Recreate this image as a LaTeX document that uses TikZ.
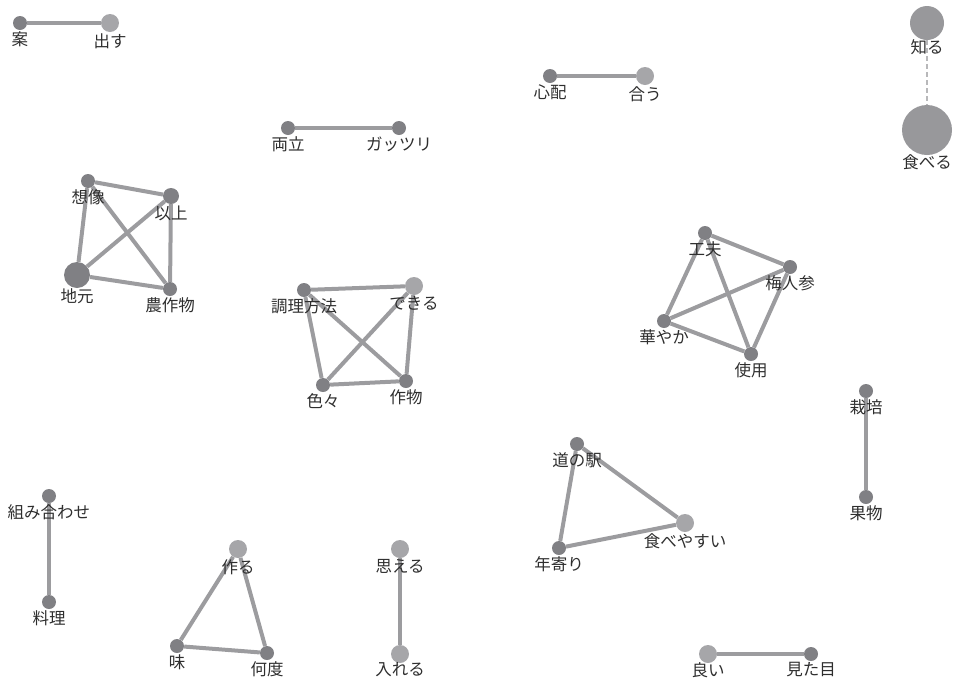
\documentclass[tikz,border=0pt]{standalone}
\usepackage{fontspec}
\setmainfont{Noto Sans CJK JP}
\usepackage{tikz}
\usetikzlibrary{backgrounds}
\definecolor{nodedark}{HTML}{808084}
\definecolor{nodelight}{HTML}{A6A6A9}
\definecolor{nodemid}{HTML}{98989B}
\definecolor{edgegray}{HTML}{9C9C9F}
\definecolor{txtgray}{HTML}{2E2E2E}

\begin{document}
\begin{tikzpicture}[
  x=1pt, y=-1pt,
  font=\fontsize{16.5}{18}\selectfont,
  vtx/.style={circle, draw=none, fill=nodedark, minimum size=14pt, inner sep=0pt},
  vlt/.style={vtx, fill=nodelight, minimum size=18pt},
  lbl/.style={text=txtgray, inner sep=0pt},
  every label/.style={lbl},
  label distance=1pt,
  lnk/.style={draw=edgegray, line width=4pt},
  weak/.style={draw=nodelight!80!white, line width=1.2pt, dashed, dash pattern=on 5pt off 3pt}]
\useasboundingbox (0,0) rectangle (954,678);
% pairs
\node[vtx] (an)    at (20,23)  [label=below:案] {};
\node[vlt] (dasu)  at (110,23) [label=below:出す] {};
\node[vtx] (shin)  at (550,76) [label=below:心配] {};
\node[vlt] (au)    at (645,76) [label=below:合う] {};
\node[vtx] (ryo)   at (288,128) [label=below:両立] {};
\node[vtx] (gattu) at (399,128) [label=below:ガッツリ] {};
\node[vtx, fill=nodemid, minimum size=34pt] (shiru)  at (927,23)  [label={[label distance=-1pt]below:知る}] {};
\node[vtx, fill=nodemid, minimum size=50pt] (taberu) at (927,130) [label={[label distance=-1pt]below:食べる}] {};
% jimoto group
\node[vtx] (sozo)  at (88,181)  [label=below:想像] {};
\node[vtx, minimum size=16pt] (ijo) at (171,196) [label=below:以上] {};
\node[vtx, minimum size=26pt] (jimo) at (77,275) [label={[label distance=0pt]below:地元}] {};
\node[vtx] (nosa)  at (170,289) [label=below:農作物] {};
% chori group
\node[vtx] (chori) at (304,290) [label=below:調理方法] {};
\node[vlt] (dekir) at (414,286) [label=below:できる] {};
\node[vtx] (iro)   at (323,385) [label=below:色々] {};
\node[vtx] (saku)  at (406,381) [label=below:作物] {};
% kufu group
\node[vtx] (kufu)  at (705,233) [label=below:工夫] {};
\node[vtx] (ume)   at (790,267) [label=below:梅人参] {};
\node[vtx] (hana)  at (664,321) [label=below:華やか] {};
\node[vtx] (shiyo) at (751,354) [label=below:使用] {};
% misc
\node[vtx] (saib)  at (866,391) [label=below:栽培] {};
\node[vtx] (kuda)  at (866,497) [label=below:果物] {};
\node[vtx] (michi) at (577,444) [label=below:道の駅] {};
\node[vlt] (tabey) at (685,523) [label=below:食べやすい] {};
\node[vtx] (toshi) at (559,548) [label=below:年寄り] {};
\node[vtx] (kumi)  at (49,496)  [label=below:組み合わせ] {};
\node[vtx] (ryori) at (49,602)  [label=below:料理] {};
\node[vlt] (tsuku) at (238,549) [label=below:作る] {};
\node[vtx] (aji)   at (177,646) [label=below:味] {};
\node[vtx] (nando) at (267,653) [label=below:何度] {};
\node[vlt] (omoe)  at (400,549) [label=below:思える] {};
\node[vlt] (ireru) at (400,654) [label={[label distance=-1pt]below:入れる}] {};
\node[vlt] (yoi)   at (708,654) [label={[label distance=-1pt]below:良い}] {};
\node[vtx] (mita)  at (811,654) [label=below:見た目] {};
% links
\begin{scope}[on background layer]
\draw[lnk] (an) -- (dasu);
\draw[lnk] (shin) -- (au);
\draw[lnk] (ryo) -- (gattu);
\draw[weak] (shiru) -- (taberu);
\foreach \a/\b in {sozo/ijo, sozo/jimo, sozo/nosa, ijo/jimo, ijo/nosa, jimo/nosa,
  chori/dekir, chori/iro, chori/saku, dekir/iro, dekir/saku, iro/saku,
  kufu/ume, kufu/hana, kufu/shiyo, ume/hana, ume/shiyo, hana/shiyo,
  saib/kuda, michi/toshi, michi/tabey, toshi/tabey, kumi/ryori,
  tsuku/aji, tsuku/nando, aji/nando, omoe/ireru, yoi/mita}
  \draw[lnk] (\a) -- (\b);
\end{scope}
\end{tikzpicture}
\end{document}
